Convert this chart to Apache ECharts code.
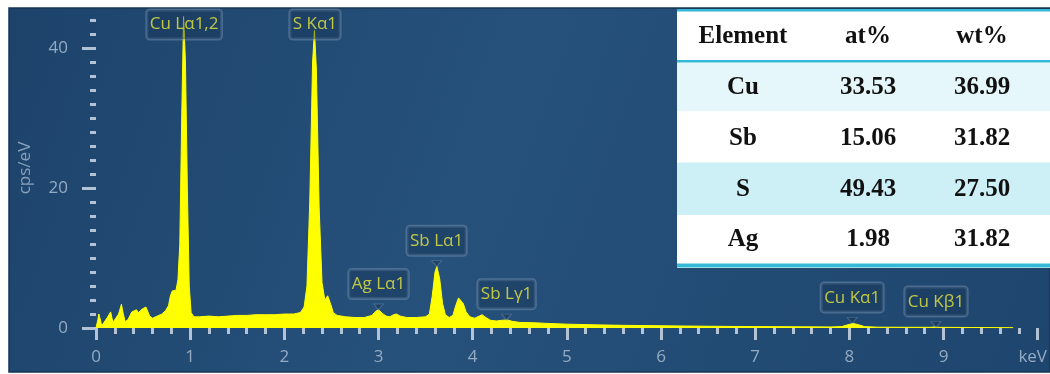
<!DOCTYPE html>
<html><head><meta charset="utf-8">
<script src="https://cdn.jsdelivr.net/npm/echarts@6/dist/echarts.min.js"></script>
<style>html,body{margin:0;padding:0;background:#fff;}#c{width:1050px;height:374px;}</style>
</head><body><div id="c"></div>
<script>
// ---- Spectrum data (keV, cps/eV) ----
const energy = [0.00,0.02,0.03,0.05,0.06,0.08,0.12,0.155,0.18,0.20,0.24,0.27,0.29,0.31,0.34,0.38,0.43,0.45,0.49,0.53,0.57,0.60,0.65,0.70,0.74,0.77,0.79,0.81,0.83,0.85,0.87,0.89,0.91,0.93,0.95,0.97,0.99,1.01,1.04,1.10,1.20,1.30,1.40,1.50,1.60,1.70,1.80,1.90,2.00,2.10,2.17,2.21,2.24,2.27,2.30,2.32,2.34,2.37,2.40,2.43,2.46,2.49,2.52,2.56,2.65,2.75,2.85,2.93,2.97,3.00,3.04,3.08,3.12,3.16,3.19,3.23,3.30,3.40,3.50,3.54,3.57,3.60,3.62,3.65,3.68,3.71,3.75,3.79,3.82,3.85,3.87,3.90,3.93,3.97,4.02,4.07,4.10,4.14,4.19,4.25,4.31,4.37,4.42,4.50,4.65,4.80,5.00,5.30,5.60,6.00,6.50,7.00,7.50,7.80,7.92,7.98,8.04,8.10,8.16,8.30,8.60,8.86,8.90,8.94,9.30,9.74];
const counts = [0.0,1.2,2.0,1.0,0.3,0.5,1.5,2.3,0.8,0.9,2.0,3.4,2.0,0.9,1.2,2.3,2.6,2.2,2.7,3.0,1.7,1.4,1.7,2.0,2.5,3.2,4.6,5.3,5.1,5.4,6.9,12,30,44.5,38,20,6,2.2,1.6,1.6,1.7,1.6,1.7,1.8,1.8,1.9,1.9,1.9,2.0,2.0,2.2,3.0,6,18,38,42.5,37,17,6.5,4.0,4.6,3.5,2.2,1.8,1.6,1.5,1.5,1.8,2.4,2.6,2.1,1.7,1.6,1.9,2.0,1.7,1.5,1.5,1.6,2.0,4.5,8.0,8.8,7.0,3.5,1.9,1.5,1.8,3.2,4.3,4.5,3.5,2.3,1.6,1.4,1.7,1.9,1.5,1.1,1.0,1.1,1.15,0.95,0.8,0.75,0.65,0.55,0.45,0.38,0.32,0.25,0.2,0.17,0.15,0.2,0.45,0.65,0.45,0.2,0.12,0.1,0.1,0.15,0.1,0.07,0.05];

// ---- Peak annotations ----
const peakNames = ['Cu Lα1,2','S Kα1','Ag Lα1','Sb Lα1','Sb Lγ1','Cu Kα1','Cu Kβ1'];
const peakEnergy = [0.936, 2.325, 3.00, 3.617, 4.36, 8.03, 8.92];
const peakHeight = [43.36, 43.36, 2.57, 8.76, 1.14, 0.67, 0.10];
const peakPointer = [false, false, true, true, true, true, true];

// ---- Axis ticks ----
const yTickValues = [0, 20, 40];
const xMax = 10;
const xUnit = 'keV';

// ---- Composition table ----
const tableHeader = ['Element', 'at%', 'wt%'];
const elements = ['Cu', 'Sb', 'S', 'Ag'];
const atPercent = ['33.53', '15.06', '49.43', '1.98'];
const wtPercent = ['36.99', '31.82', '27.50', '31.82'];

// ---------------------------------------------------------------
const chart = echarts.init(document.getElementById('c'), null, {renderer: 'canvas'});
const spectrum = energy.map((e, i) => [e, counts[i]]);

const tickColor = '#b3c3d3';
const labelColor = '#95abc2';
const boxLabel = {
  show: true,
  formatter: p => p.name,
  color: '#e8e83c',
  fontFamily: 'Open Sans',
  fontSize: 17,
  lineHeight: 20,
  padding: [5, 3, 4, 3],
  backgroundColor: 'rgba(22,50,82,0.5)',
  borderColor: 'rgba(125,155,185,0.55)',
  borderWidth: 1.5,
  borderRadius: 3
};

const topLabels = [], pointerLabels = [];
peakNames.forEach((n, i) => {
  const d = {name: n, value: [peakEnergy[i], peakHeight[i]]};
  (peakPointer[i] ? pointerLabels : topLabels).push(d);
});

// table graphics
const tblX = 677, tblW = 373;
const colCenters = [743, 868, 982];
const rowTops = [62.5, 111.5, 162.5, 215];
const rowBottoms = [111.5, 162.5, 215, 263.5];
const rowFills = ['#e6f7fb', '#ffffff', '#cdeff6', '#ffffff'];
const cyan = '#36b9d6';
const tableEls = [
  {type: 'rect', shape: {x: tblX, y: 9, width: tblW, height: 259}, style: {fill: '#ffffff'}, z: 100}
];
rowTops.forEach((t, r) => {
  tableEls.push({type: 'rect', shape: {x: tblX, y: t, width: tblW, height: rowBottoms[r] - t}, style: {fill: rowFills[r]}, z: 101});
});
tableEls.push({type: 'rect', shape: {x: tblX, y: 9, width: tblW, height: 2.5}, style: {fill: cyan}, z: 102});
tableEls.push({type: 'rect', shape: {x: tblX, y: 60, width: tblW, height: 2.5}, style: {fill: cyan}, z: 102});
tableEls.push({type: 'rect', shape: {x: tblX, y: 263.5, width: tblW, height: 4}, style: {fill: cyan}, z: 102});
const txt = (s, x, y) => ({type: 'text', x: x, y: y, z: 103,
  style: {text: s, fill: '#111', font: 'bold 25px "Liberation Serif"', align: 'center', verticalAlign: 'middle'}});
tableHeader.forEach((h, c) => tableEls.push(txt(h, colCenters[c], 37)));
const rowCenters = [87.5, 138.5, 189.5, 239.5];
elements.forEach((el, r) => {
  tableEls.push(txt(el, colCenters[0], rowCenters[r]));
  tableEls.push(txt(atPercent[r], colCenters[1], rowCenters[r]));
  tableEls.push(txt(wtPercent[r], colCenters[2], rowCenters[r]));
});

const option = {
  animation: false,
  backgroundColor: '#ffffff',
  graphic: [
    {type: 'rect', z: -10, shape: {x: 9, y: 8, width: 1041, height: 364},
      style: {
        fill: {type: 'linear', x: 0, y: 0, x2: 1, y2: 1, colorStops: [
          {offset: 0, color: '#1d436b'}, {offset: 0.45, color: '#26517b'}, {offset: 1, color: '#1e456d'}]},
        stroke: '#143556', lineWidth: 1.5
      }},
    ...tableEls
  ],
  grid: {left: 96, right: 12, top: 8, bottom: 46, containLabel: false},
  xAxis: {
    type: 'value', min: 0, max: xMax, interval: 1, offset: 5,
    axisLine: {show: false},
    splitLine: {show: false},
    axisTick: {show: true, length: 12, lineStyle: {color: tickColor, width: 3}},
    minorTick: {show: true, splitNumber: 5, length: 6, lineStyle: {color: tickColor, width: 3}},
    axisLabel: {
      color: labelColor, fontFamily: 'Open Sans', fontSize: 17, margin: 16,
      formatter: v => v === xMax ? '{k|' + xUnit + '}' : String(v),
      rich: {k: {color: labelColor, fontFamily: 'Open Sans', fontSize: 17, padding: [0, 10, 0, 0]}}
    }
  },
  yAxis: {
    type: 'value', min: 0, max: 320 / 7, interval: 20, offset: 12,
    name: 'cps/eV', nameLocation: 'middle', nameGap: 50,
    nameTextStyle: {color: '#8aa2bb', fontFamily: 'Open Sans', fontSize: 17},
    axisLine: {show: false},
    splitLine: {show: false},
    axisTick: {show: true, length: 14, customValues: yTickValues, lineStyle: {color: tickColor, width: 3}},
    minorTick: {show: true, splitNumber: 10, length: 6, lineStyle: {color: tickColor, width: 3}},
    axisLabel: {customValues: yTickValues, color: labelColor, fontFamily: 'Open Sans', fontSize: 17, margin: 16}
  },
  series: [
    {
      type: 'line', data: spectrum, showSymbol: false, smooth: false, z: 2,
      lineStyle: {color: '#ffff00', width: 1},
      areaStyle: {color: '#ffff00', opacity: 1},
      silent: true
    },
    {
      type: 'scatter', data: pointerLabels, z: 5, silent: true,
      symbol: 'path://M0,0L10,0L5,6Z', symbolSize: [10, 6], symbolOffset: [0, '-50%'],
      itemStyle: {color: 'rgba(22,50,82,0.55)', borderColor: 'rgba(125,155,185,0.5)', borderWidth: 1},
      label: Object.assign({}, boxLabel, {position: 'top', distance: 5})
    },
    {
      type: 'scatter', data: topLabels, z: 5, silent: true,
      symbolSize: 0,
      label: Object.assign({}, boxLabel, {position: 'inside'})
    }
  ]
};
chart.setOption(option);
</script></body></html>
